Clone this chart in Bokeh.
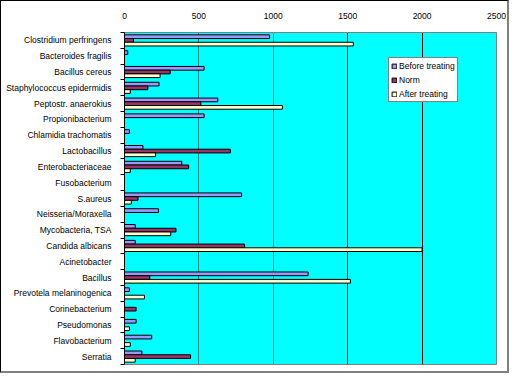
import numpy as np
from bokeh.plotting import figure
from bokeh.models import (Range1d, FixedTicker, LinearAxis, Grid, Legend, LegendItem,
                          ColumnDataSource)
from bokeh.embed import file_html
from bokeh.resources import INLINE

categories = ["Clostridium perfringens", "Bacteroides fragilis", "Bacillus cereus",
              "Staphylococcus epidermidis", "Peptostr. anaerokius", "Propionibacterium",
              "Chlamidia trachomatis", "Lactobacillus", "Enterobacteriaceae", "Fusobacterium",
              "S.aureus", "Neisseria/Moraxella", "Mycobacteria, TSA", "Candida albicans",
              "Acinetobacter", "Bacillus", "Prevotela melaninogenica", "Corinebacterium",
              "Pseudomonas", "Flavobacterium", "Serratia"]
before = [975, 22, 535, 232, 627, 535, 33, 124, 385, 0, 787, 228, 72, 72, 0, 1234, 33, 0, 78, 183, 117]
norm = [60, 0, 307, 157, 513, 0, 0, 711, 431, 0, 91, 0, 346, 807, 0, 170, 0, 78, 0, 0, 444]
after = [1538, 0, 239, 39, 1061, 0, 0, 209, 39, 0, 46, 0, 311, 2000, 0, 1518, 134, 0, 33, 39, 72]
series_names = ["Before treating", "Norm", "After treating"]
series_colors = ["#9999FF", "#993366", "#FFFFCC"]
x_ticks = [0, 500, 1000, 1500, 2000, 2500]

FONT = "Liberation Sans"
FS = "8.5px"
n = len(categories)
centers = np.arange(n) + 0.5
bar_h = 0.235

p = figure(width=509, height=373, output_backend="svg", toolbar_location=None,
           x_range=Range1d(0, 2500), y_range=Range1d(n, 0),
           x_axis_location=None, y_axis_location=None,
           min_border_left=123, min_border_right=14, min_border_top=31, min_border_bottom=10)
p.background_fill_color = "#00FFFF"
p.border_fill_color = "white"
p.outline_line_color = "#808080"
p.outline_line_width = 1
p.xgrid.visible = False
p.ygrid.visible = False
p.styles = {"border-top": "1px solid black", "border-left": "1px solid black",
            "border-right": "2px solid #808080", "border-bottom": "2px solid #808080",
            "box-sizing": "border-box"}

# top axis
xa = LinearAxis(ticker=FixedTicker(ticks=x_ticks))
xa.major_tick_line_color = None
xa.minor_tick_line_color = None
xa.axis_line_color = "#808080"
xa.major_label_text_font = FONT
xa.major_label_text_font_size = FS
xa.major_label_text_color = "black"
xa.major_label_standoff = 8
p.add_layout(xa, "above")

# left axis: labels at centers, ticks at boundaries (minor)
ya = LinearAxis(ticker=FixedTicker(ticks=list(centers), minor_ticks=list(np.arange(n + 1))))
ya.major_label_overrides = {float(c): name for c, name in zip(centers, categories)}
ya.major_tick_line_color = None
ya.minor_tick_line_color = "black"
ya.minor_tick_out = 4
ya.minor_tick_in = 0
ya.axis_line_color = "black"
ya.major_label_text_font = FONT
ya.major_label_text_font_size = FS
ya.major_label_text_color = "black"
ya.major_label_standoff = 7
p.add_layout(ya, "left")

# gridlines
g1 = Grid(dimension=0, ticker=FixedTicker(ticks=[500, 1000]), grid_line_color="#008080")
g2 = Grid(dimension=0, ticker=FixedTicker(ticks=[1500, 2000]), grid_line_color="black")
p.add_layout(g1)
p.add_layout(g2)

offsets = [-bar_h, 0.0, bar_h]
renderers = []
for vals, name, color, off in zip([before, norm, after], series_names, series_colors, offsets):
    vals = np.array(vals, dtype=float)
    mask = vals > 0
    src = ColumnDataSource(dict(y=(centers + off)[mask], right=vals[mask]))
    r = p.hbar(y="y", left=0, right="right", height=bar_h, source=src,
               fill_color=color, line_color="black", line_width=1)
    renderers.append(r)

legend = Legend(items=[LegendItem(label=nm, renderers=[r]) for nm, r in zip(series_names, renderers)],
                location=(264, 262))
legend.border_line_color = "black"
legend.border_line_width = 1
legend.background_fill_color = "white"
legend.background_fill_alpha = 1
legend.label_text_font = FONT
legend.label_text_font_size = FS
legend.label_text_color = "black"
legend.glyph_width = 6
legend.glyph_height = 6
legend.label_height = 11
legend.label_standoff = 2
legend.spacing = 3
legend.padding = 2
legend.margin = 0
p.add_layout(legend, "center")

open("out.html", "w").write(file_html(p, INLINE))
